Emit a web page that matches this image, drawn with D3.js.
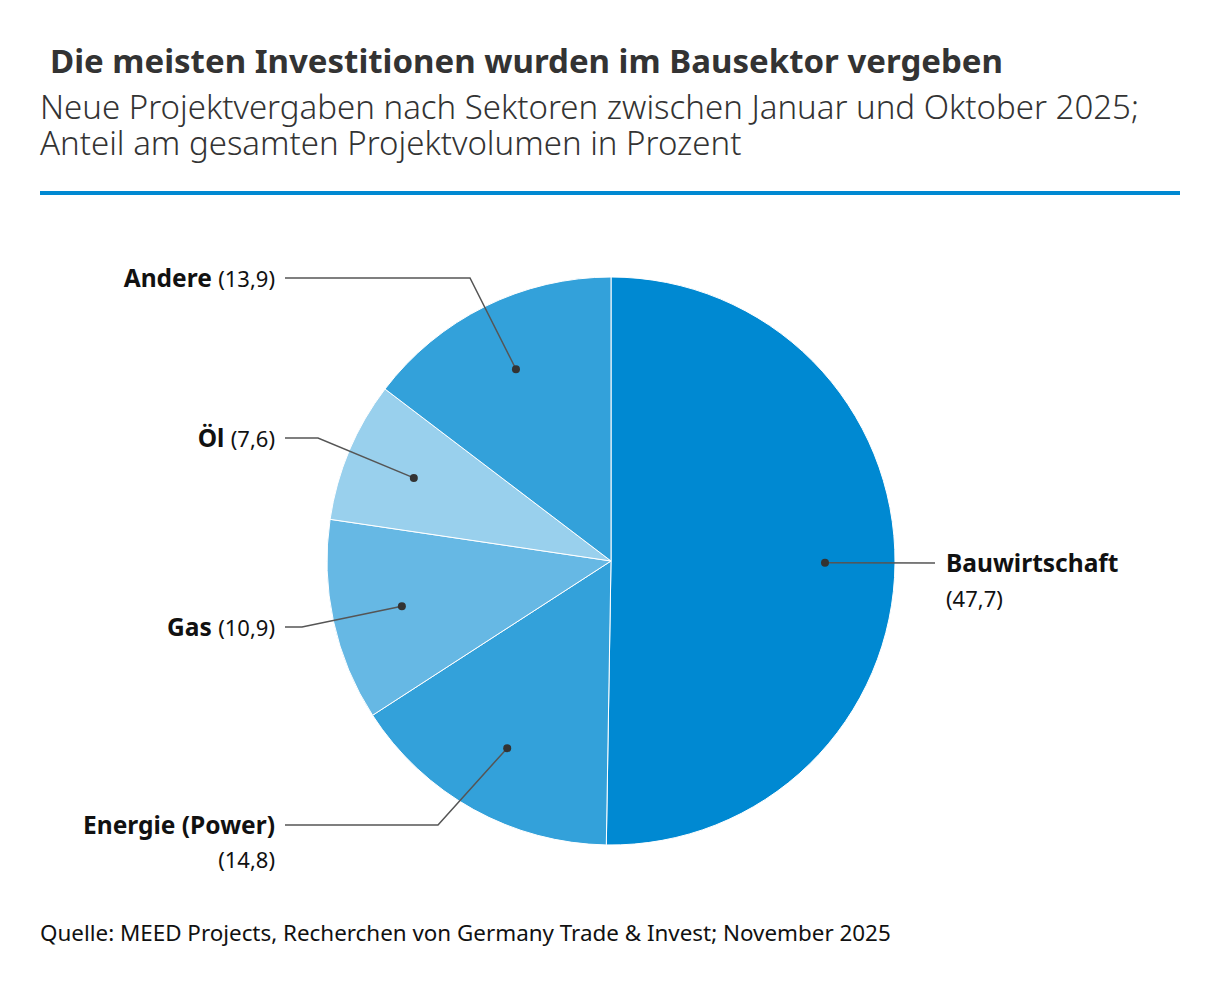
<!DOCTYPE html>
<html>
<head>
<meta charset="utf-8">
<script src="https://cdn.jsdelivr.net/npm/d3@7"></script>
<style>
  body { margin: 0; background: #fff; }
  svg { display: block; }
</style>
</head>
<body>
<svg id="chart" width="1220" height="988"></svg>
<script>
const sectors = ['Bauwirtschaft', 'Energie (Power)', 'Gas', 'Öl', 'Andere'];
const shares = [47.7, 14.8, 10.9, 7.6, 13.9];
const shareLabels = ['(47,7)', '(14,8)', '(10,9)', '(7,6)', '(13,9)'];

const style = {
  fontFamily: '"Noto Sans", sans-serif',
  textColor: '#333333',
  labelColor: '#111111',
  ruleColor: '#0089d2',
  lineColor: '#555555',
  dotColor: '#333333',
  colors: ['#0089d2', '#33a1da', '#66b8e4', '#99d0ed', '#33a1da'],
  boldSize: 24.5,
  valueSize: 22,
};

// where each label sits: line y, elbow x, side
const labelLayout = {
  'Bauwirtschaft': { side: 'right', y: 563, elbowX: null },
  'Energie (Power)': { side: 'left', y: 825, elbowX: 438, twoLines: true },
  'Gas': { side: 'left', y: 627, elbowX: 302 },
  'Öl': { side: 'left', y: 438, elbowX: 318 },
  'Andere': { side: 'left', y: 278, elbowX: 470 },
};

const svg = d3.select('#chart');
const cx = 611, cy = 561, radius = 284;

svg.append('text')
  .attr('x', 50).attr('y', 73)
  .attr('font-family', style.fontFamily)
  .attr('font-weight', 'bold')
  .attr('font-size', 33)
  .attr('fill', style.textColor)
  .text('Die meisten Investitionen wurden im Bausektor vergeben');

const subLines = ['Neue Projektvergaben nach Sektoren zwischen Januar und Oktober 2025;',
  'Anteil am gesamten Projektvolumen in Prozent'];
subLines.forEach((s, i) => {
  svg.append('text')
    .attr('x', 40).attr('y', 119 + i * 36)
    .attr('font-family', style.fontFamily)
    .attr('font-weight', 300)
    .attr('font-size', 33)
    .attr('fill', style.textColor)
    .text(s);
});

svg.append('rect')
  .attr('x', 40).attr('y', 191)
  .attr('width', 1140).attr('height', 4)
  .attr('fill', style.ruleColor);

const data = sectors.map((s, i) => ({ sector: s, value: shares[i], label: shareLabels[i], i }));

const pie = d3.pie().sort(null).value(d => d.value);
const arc = d3.arc().innerRadius(0).outerRadius(radius);
const dotArc = d3.arc().innerRadius(214).outerRadius(214);

const g = svg.append('g').attr('transform', `translate(${cx},${cy})`);
const arcs = pie(data);

g.selectAll('path.slice')
  .data(arcs)
  .enter()
  .append('path')
    .attr('class', 'slice')
    .attr('d', arc)
    .attr('fill', d => style.colors[d.data.i])
    .attr('stroke', '#ffffff')
    .attr('stroke-width', 1);

const labels = svg.append('g').attr('class', 'labels');

arcs.forEach(d => {
  const lay = labelLayout[d.data.sector];
  const [dx, dy] = dotArc.centroid(d);
  const px = cx + dx, py = cy + dy;

  let pts;
  if (lay.side === 'right') {
    pts = [[px, py], [935, lay.y]];
  } else {
    pts = [[285, lay.y], [lay.elbowX, lay.y], [px, py]];
  }
  labels.append('path')
    .attr('d', d3.line()(pts))
    .attr('fill', 'none')
    .attr('stroke', style.lineColor)
    .attr('stroke-width', 1.5);

  labels.append('circle')
    .attr('cx', px).attr('cy', py).attr('r', 4)
    .attr('fill', style.dotColor);

  const t = labels.append('text')
    .attr('font-family', style.fontFamily)
    .attr('font-size', style.valueSize)
    .attr('fill', style.labelColor);

  if (lay.side === 'right') {
    t.append('tspan').attr('x', 946).attr('y', lay.y + 9)
      .attr('font-weight', 'bold').attr('font-size', style.boldSize).text(d.data.sector);
    t.append('tspan').attr('x', 946).attr('y', lay.y + 44)
      .text(d.data.label);
  } else if (lay.twoLines) {
    t.attr('text-anchor', 'end');
    t.append('tspan').attr('x', 275).attr('y', lay.y + 9)
      .attr('font-weight', 'bold').attr('font-size', style.boldSize).text(d.data.sector);
    t.append('tspan').attr('x', 275).attr('y', lay.y + 43)
      .text(d.data.label);
  } else {
    t.attr('text-anchor', 'end');
    t.append('tspan').attr('y', lay.y + 9).attr('x', 275)
      .attr('font-weight', 'bold').attr('font-size', style.boldSize).text(d.data.sector + ' ');
    t.append('tspan').text(d.data.label);
  }
});

svg.append('text')
  .attr('x', 40).attr('y', 941)
  .attr('font-family', style.fontFamily)
  .attr('font-size', 22.4)
  .attr('fill', style.labelColor)
  .text('Quelle: MEED Projects, Recherchen von Germany Trade & Invest; November 2025');
</script>
</body>
</html>
